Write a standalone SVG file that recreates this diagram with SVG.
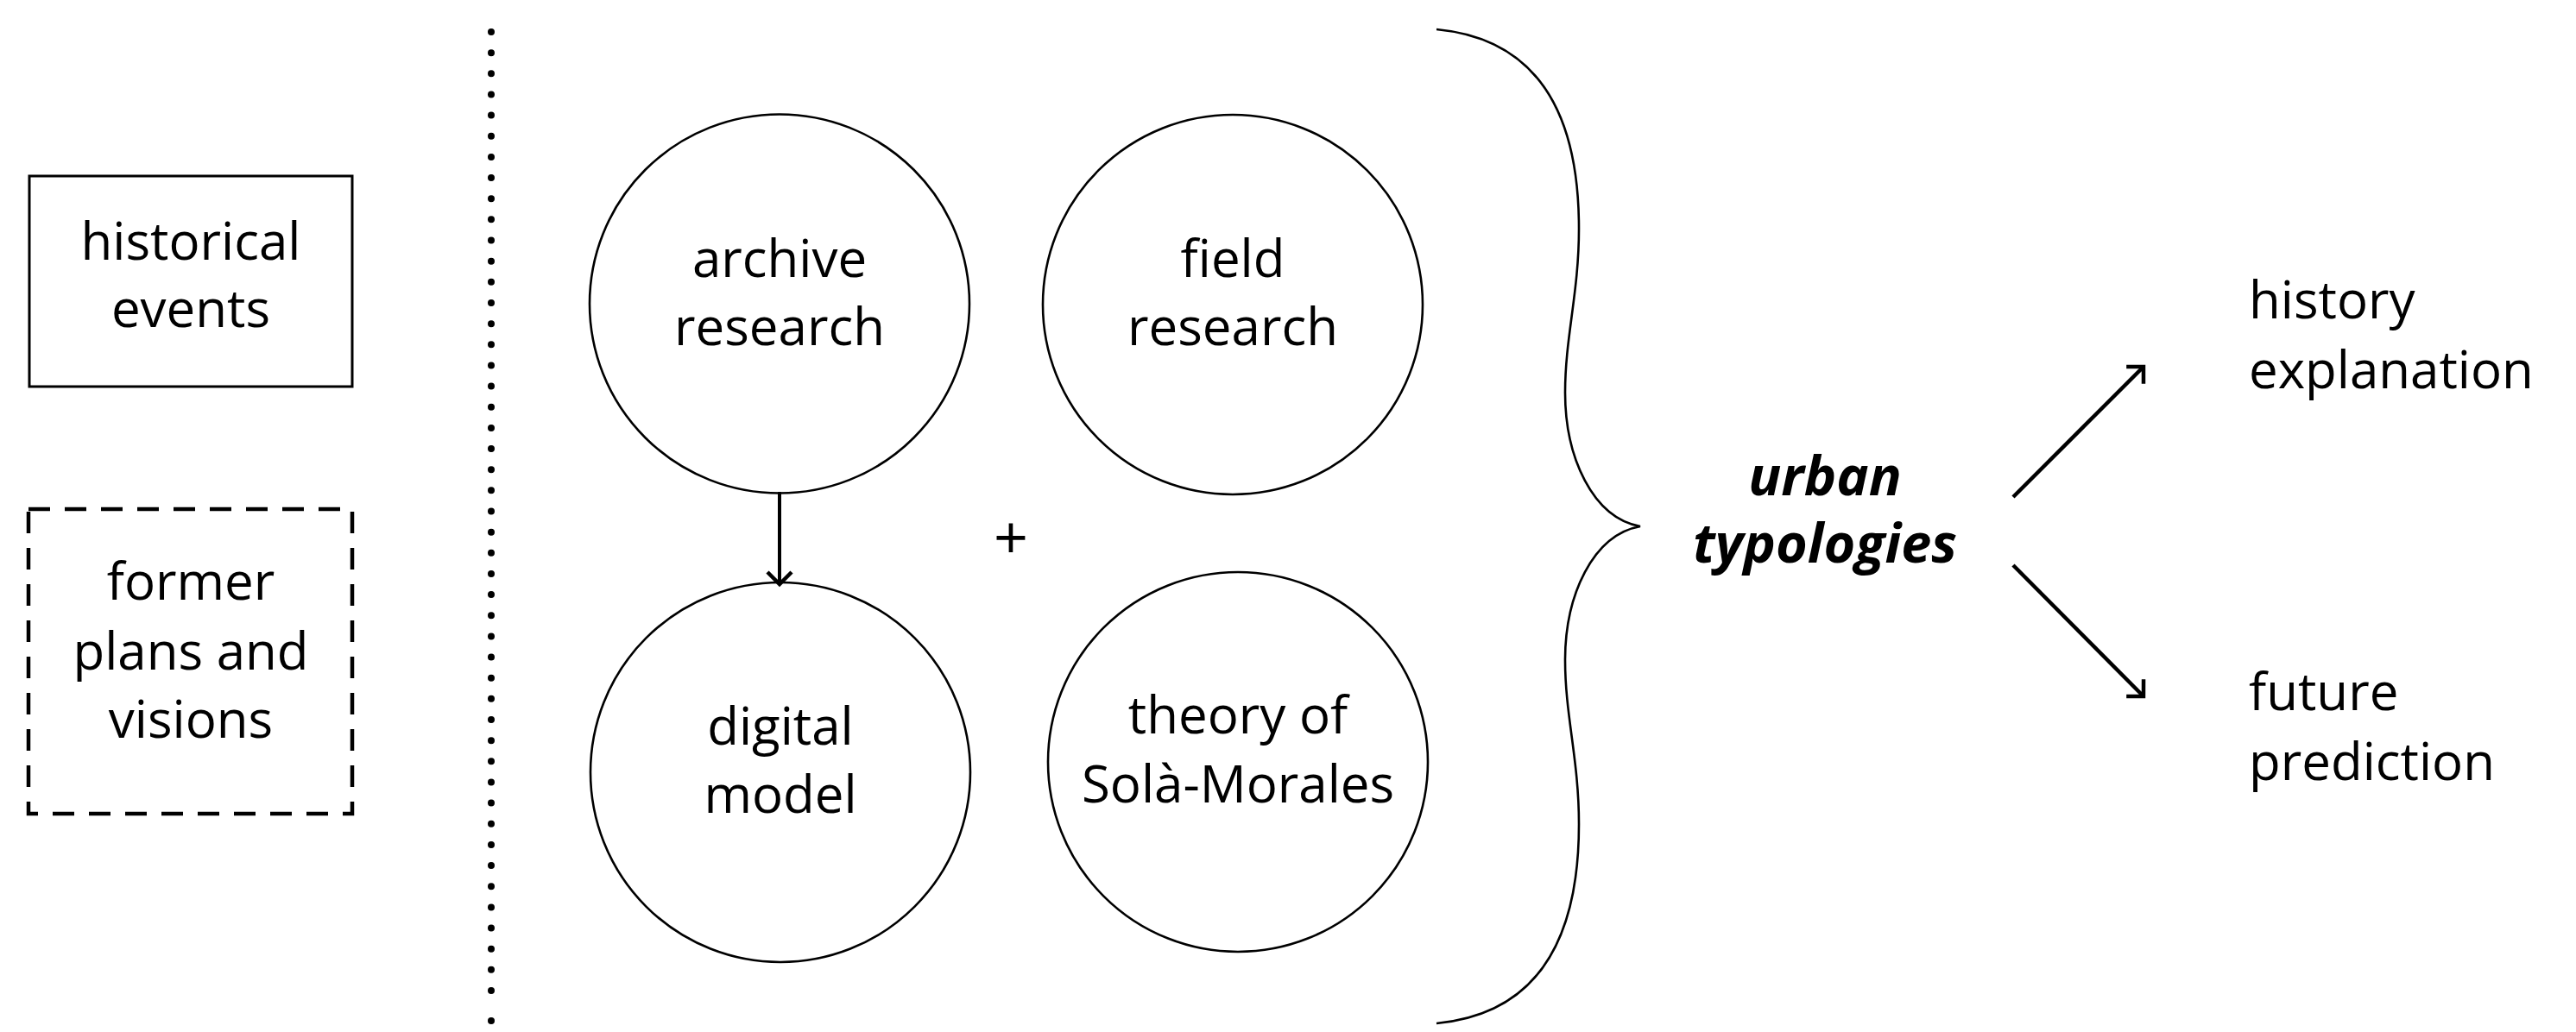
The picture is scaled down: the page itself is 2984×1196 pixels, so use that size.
<svg xmlns="http://www.w3.org/2000/svg" width="2984" height="1196" viewBox="0 0 2984 1196">
<style>
.lbl{font-family:"Open Sans","Liberation Sans",sans-serif;font-size:60px;fill:#000;text-anchor:middle}
.lft{text-anchor:start}
.bi{font-weight:bold;font-style:italic;font-size:63px}
.node{fill:none;stroke:#000;stroke-width:2.6}
.conn{fill:none;stroke:#000;stroke-width:4.5;stroke-linecap:butt}
</style>
<defs>
<marker id="ah" markerUnits="userSpaceOnUse" viewBox="-20 -20 30 40" refX="0" refY="0" markerWidth="30" markerHeight="40" orient="auto">
<path d="M-14,-14 L0,0 L-14,14" fill="none" stroke="#000" stroke-width="4.5" stroke-linejoin="miter"/>
</marker>
</defs>
<rect width="2984" height="1196" fill="#fff"/>
<g id="divider">
<line x1="569" y1="37" x2="569" y2="1148" stroke="#000" stroke-width="8" stroke-linecap="round" stroke-dasharray="0 24.152"/>
<circle cx="569" cy="1183" r="4" fill="#000"/>
</g>
<g id="historical-events">
<rect x="34" y="204" width="374" height="244" fill="none" stroke="#000" stroke-width="3"/>
<text class="lbl" x="221" y="301">historical</text>
<text class="lbl" x="221" y="379">events</text>
</g>
<g id="former-plans">
<rect x="33" y="590" width="375" height="353" fill="none" stroke="#000" stroke-width="4.5" stroke-dasharray="25 17"/>
<text class="lbl" x="221" y="695">former</text>
<text class="lbl" x="221" y="776">plans and</text>
<text class="lbl" x="221" y="855">visions</text>
</g>
<g id="archive-research">
<ellipse class="node" cx="903" cy="352" rx="220" ry="219.5"/>
<text class="lbl" x="903" y="321">archive</text>
<text class="lbl" x="903" y="400">research</text>
</g>
<g id="field-research">
<ellipse class="node" cx="1428" cy="353" rx="220" ry="220"/>
<text class="lbl" x="1428" y="321">field</text>
<text class="lbl" x="1428" y="400">research</text>
</g>
<g id="digital-model">
<ellipse class="node" cx="904" cy="895" rx="220" ry="220"/>
<text class="lbl" x="904" y="863">digital</text>
<text class="lbl" x="904" y="942">model</text>
</g>
<g id="theory">
<ellipse class="node" cx="1434" cy="883" rx="220" ry="220"/>
<text class="lbl" x="1434" y="850">theory of</text>
<text class="lbl" x="1434" y="930">Solà-Morales</text>
</g>
<g id="plus">
<text class="lbl" x="1171" y="648" style="font-size:70px">+</text>
</g>
<g id="brace">
<path class="node" d="M1664,34 C1780,45 1829,130 1829,265 C1829,340 1813,390 1813,455 C1813,530 1845,600 1900,610 C1845,620 1813,690 1813,765 C1813,830 1829,880 1829,955 C1829,1090 1780,1175 1664,1186"/>
</g>
<g id="urban-typologies">
<text class="lbl bi" x="2114" y="574">urban</text>
<text class="lbl bi" x="2114" y="652">typologies</text>
</g>
<g id="history-explanation">
<text class="lbl lft" x="2605" y="369">history</text>
<text class="lbl lft" x="2605" y="450">explanation</text>
</g>
<g id="future-prediction">
<text class="lbl lft" x="2605" y="823">future</text>
<text class="lbl lft" x="2605" y="904">prediction</text>
</g>
<g id="connectors">
<line class="conn" x1="903" y1="570" x2="903" y2="677" marker-end="url(#ah)" style="stroke-width:4"/>
<line class="conn" x1="2332" y1="576" x2="2483" y2="425" marker-end="url(#ah)"/>
<line class="conn" x1="2332" y1="655" x2="2483" y2="807" marker-end="url(#ah)"/>
</g>
</svg>
